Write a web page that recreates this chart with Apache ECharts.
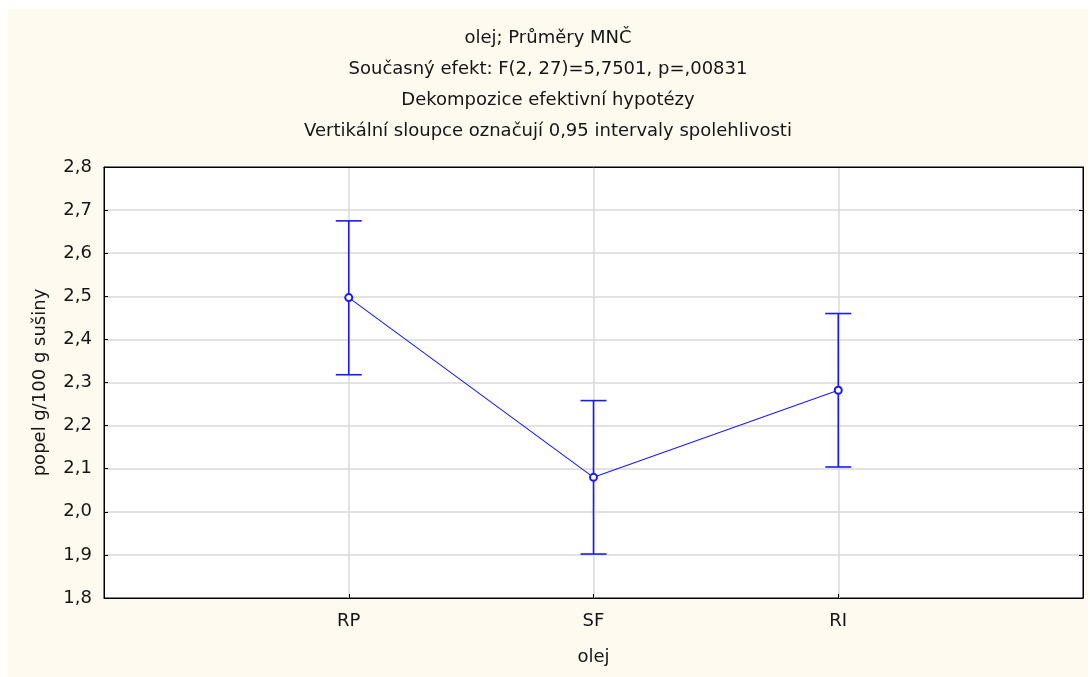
<!DOCTYPE html>
<html>
<head>
<meta charset="utf-8">
<script src="https://cdn.jsdelivr.net/npm/echarts@6/dist/echarts.min.js"></script>
<style>
html,body{margin:0;padding:0;background:#ffffff;width:1090px;height:677px;overflow:hidden;}
#chart{position:absolute;left:8px;top:9px;width:1080px;height:668px;}
</style>
</head>
<body>
<div id="chart"></div>
<script>
const categories = ['RP', 'SF', 'RI'];
const means = [2.497, 2.080, 2.282];
const lower = [2.318, 1.902, 2.104];
const upper = [2.675, 2.258, 2.460];
const yTicks = { min: 1.8, max: 2.8, interval: 0.1 };
const titleLines = [
  'olej; Průměry MNČ',
  'Současný efekt: F(2, 27)=5,7501, p=,00831',
  'Dekompozice efektivní hypotézy',
  'Vertikální sloupce označují 0,95 intervaly spolehlivosti'
];
const xName = 'olej';
const yName = 'popel g/100 g sušiny';

const xCats = [''].concat(categories, ['']);
const font = 'DejaVu Sans, Liberation Sans, sans-serif';
const fs = 18;
const blue = '#1a1aff';

const chart = echarts.init(document.getElementById('chart'));
chart.setOption({
  backgroundColor: '#fffaf0',
  animation: false,
  title: {
    text: titleLines.join('\n'),
    left: 'center',
    top: 9,
    textStyle: { fontFamily: font, fontSize: fs, fontWeight: 'normal', color: '#151515', lineHeight: 31 }
  },
  grid: {
    left: 96, right: 5, top: 158, bottom: 79,
    show: true, backgroundColor: '#ffffff', borderColor: '#000', borderWidth: 1
  },
  xAxis: [{
    type: 'category',
    data: xCats,
    boundaryGap: false,
    name: xName,
    nameLocation: 'middle',
    nameGap: 50,
    nameTextStyle: { fontFamily: font, fontSize: fs, color: '#151515' },
    axisLine: { lineStyle: { color: '#000', width: 1 } },
    axisTick: { inside: true, length: 4, lineStyle: { color: '#000' }, interval: function (i, v) { return v !== ''; } },
    axisLabel: { fontFamily: font, fontSize: fs, color: '#151515', margin: 14, interval: 0 },
    splitLine: { show: true, showMinLine: false, showMaxLine: false, lineStyle: { color: '#d9d9d9', width: 1.5 } }
  }, {
    type: 'category',
    data: xCats,
    boundaryGap: false,
    position: 'top',
    axisLine: { show: true, lineStyle: { color: '#000', width: 1 } },
    axisTick: { show: false },
    axisLabel: { show: false },
    splitLine: { show: false }
  }],
  yAxis: [{
    type: 'value',
    min: yTicks.min, max: yTicks.max, interval: yTicks.interval,
    name: yName,
    nameLocation: 'middle',
    nameGap: 55,
    nameTextStyle: { fontFamily: font, fontSize: fs, color: '#151515' },
    axisLine: { show: true, lineStyle: { color: '#000', width: 1 } },
    axisTick: { show: true, inside: true, length: 4, lineStyle: { color: '#000' } },
    axisLabel: { fontFamily: font, fontSize: fs, color: '#151515', margin: 12,
      formatter: v => v.toFixed(1).replace('.', ',') },
    splitLine: { show: true, showMinLine: false, showMaxLine: false, lineStyle: { color: '#d9d9d9', width: 1.5 } }
  }, {
    type: 'value',
    position: 'right',
    min: yTicks.min, max: yTicks.max, interval: yTicks.interval,
    axisLine: { show: true, lineStyle: { color: '#000', width: 1 } },
    axisTick: { show: true, inside: true, length: 4, lineStyle: { color: '#000' } },
    axisLabel: { show: false },
    splitLine: { show: false }
  }],
  series: [{
    type: 'custom',
    renderItem: function (params, api) {
      const x = api.value(0);
      const lo = api.coord([x, api.value(1)]);
      const hi = api.coord([x, api.value(2)]);
      const hw = 13;
      const st = { stroke: blue, lineWidth: 1.6 };
      return {
        type: 'group',
        children: [
          { type: 'line', shape: { x1: lo[0], y1: lo[1], x2: hi[0], y2: hi[1] }, style: st },
          { type: 'line', shape: { x1: lo[0] - hw, y1: lo[1], x2: lo[0] + hw, y2: lo[1] }, style: st },
          { type: 'line', shape: { x1: hi[0] - hw, y1: hi[1], x2: hi[0] + hw, y2: hi[1] }, style: st }
        ]
      };
    },
    data: categories.map((c, i) => [c, lower[i], upper[i]]),
    z: 3
  }, {
    type: 'line',
    data: categories.map((c, i) => [c, means[i]]),
    symbol: 'emptyCircle',
    symbolSize: 7,
    lineStyle: { color: blue, width: 1.1 },
    itemStyle: { color: blue, borderColor: blue, borderWidth: 1.2 },
    z: 4
  }]
});
</script>
</body>
</html>
